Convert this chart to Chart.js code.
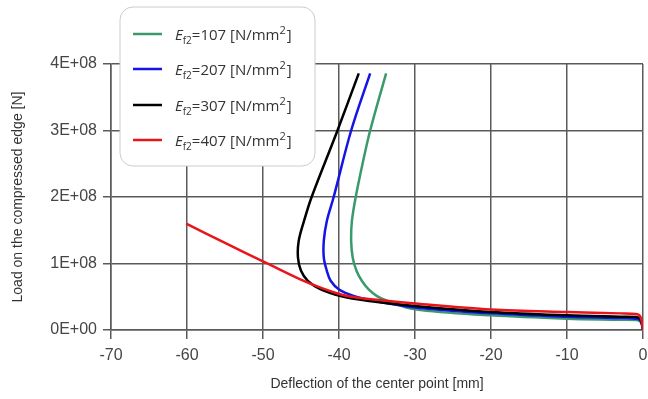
<!DOCTYPE html>
<html>
<head>
<meta charset="utf-8">
<script src="https://cdn.jsdelivr.net/npm/chart.js@4/dist/chart.umd.min.js"></script>
<style>
html,body{margin:0;padding:0;background:#fff;}
#wrap{width:648px;height:399px;position:relative;}
</style>
</head>
<body>
<div id="wrap"><canvas id="c" width="648" height="399"></canvas></div>
<script>
// Data: [deflection mm, load in units of 1E+08 N]
const seriesLabels = ['107', '207', '307', '407'];
const green107 = [[0,0],[-0.15,0.08],[-0.4,0.13],[-0.9,0.15],[-3,0.155],[-10,0.17],[-20,0.22],[-30,0.31],[-33.7,0.44],[-35.0,0.51],[-36.1,0.61],[-37.0,0.74],[-37.7,0.89],[-38.2,1.09],[-38.4,1.34],[-38.3,1.64],[-37.8,2.0],[-36.9,2.5],[-35.9,3.0],[-33.8,3.86]];
const blue207 = [[0,0],[-0.15,0.09],[-0.4,0.15],[-0.9,0.17],[-3,0.18],[-10,0.20],[-20,0.25],[-30,0.34],[-35.5,0.44],[-38.0,0.51],[-40.0,0.61],[-41.1,0.74],[-41.6,0.89],[-42.0,1.09],[-42.0,1.34],[-41.6,1.64],[-40.7,2.0],[-38.4,3.0],[-35.9,3.86]];
const black307 = [[0,0],[-0.15,0.10],[-0.4,0.17],[-0.9,0.195],[-3,0.20],[-10,0.22],[-20,0.27],[-30,0.36],[-36.3,0.44],[-39.8,0.51],[-42.4,0.61],[-44.1,0.74],[-45.0,0.89],[-45.4,1.09],[-45.3,1.34],[-44.6,1.64],[-43.6,2.0],[-40.2,3.0],[-37.4,3.86]];
const red407 = [[0,0],[-0.15,0.12],[-0.4,0.21],[-0.9,0.24],[-3,0.25],[-10,0.27],[-20,0.31],[-30,0.40],[-35.0,0.455],[-38.9,0.51],[-42.5,0.64],[-45.1,0.76],[-49.8,1.02],[-55,1.31],[-60.1,1.6]];
const xTicks = [-70,-60,-50,-40,-30,-20,-10,0];
const yTicks = [0,1e8,2e8,3e8,4e8];
const colors = ['#3a9a6c','#1414e6','#000000','#e8161c'];
const UNIT = 1e8;

const toPts = a => a.map(p => ({x:p[0], y:p[1]*UNIT}));
const dataSets = [green107, blue207, black307, red407];
const orders = [3,2,1,0];

const legendPlugin = {
  id:'customLegend',
  afterDraw(chart){
    const ctx = chart.ctx;
    ctx.save();
    const x0=120, y0=7, w=195, h=159, r=13;
    ctx.beginPath();
    ctx.moveTo(x0+r,y0);
    ctx.arcTo(x0+w,y0,x0+w,y0+h,r);
    ctx.arcTo(x0+w,y0+h,x0,y0+h,r);
    ctx.arcTo(x0,y0+h,x0,y0,r);
    ctx.arcTo(x0,y0,x0+w,y0,r);
    ctx.closePath();
    ctx.fillStyle='#ffffff';
    ctx.fill();
    ctx.strokeStyle='#cccccc';
    ctx.lineWidth=1;
    ctx.stroke();
    const rows=[34,69,105,140];
    seriesLabels.forEach((lab,i)=>{
      const y=rows[i];
      ctx.strokeStyle=colors[i];
      ctx.lineWidth=2.5;
      ctx.beginPath();ctx.moveTo(133,y);ctx.lineTo(162,y);ctx.stroke();
      ctx.fillStyle='#333333';
      ctx.textBaseline='alphabetic';
      let x=175; const base=y+6;
      ctx.font='italic 15px "Open Sans"';
      ctx.fillText('E',x,base); x+=ctx.measureText('E').width;
      ctx.font='10px "Open Sans"';
      ctx.fillText('f2',x,base+4); x+=ctx.measureText('f2').width;
      ctx.font='15px "Open Sans"';
      const t='='+lab+' [N/mm';
      ctx.fillText(t,x,base); x+=ctx.measureText(t).width;
      ctx.font='11px "Open Sans"';
      ctx.fillText('2',x,base-6); x+=ctx.measureText('2').width;
      ctx.font='15px "Open Sans"';
      ctx.fillText(']',x+1,base);
    });
    ctx.restore();
  }
};

new Chart(document.getElementById('c'), {
  type:'line',
  data:{
    datasets: dataSets.map((d,i)=>({
      label:'Ef2='+seriesLabels[i]+' [N/mm2]',
      data: toPts(d),
      borderColor: colors[i],
      backgroundColor: colors[i],
      borderWidth: 2.5,
      pointRadius: 0,
      tension: 0.35,
      fill: false,
      order: orders[i]
    }))
  },
  plugins:[legendPlugin],
  options:{
    responsive:false,
    animation:false,
    layout:{padding:{top:64,right:5,left:0,bottom:0}},
    plugins:{legend:{display:false},tooltip:{enabled:false}},
    scales:{
      x:{
        type:'linear', min:-70, max:0,
        afterFit(s){ s.height = 69; s.paddingLeft = 0; s.paddingRight = 0; },
        afterBuildTicks(s){ s.ticks = xTicks.map(v=>({value:v})); },
        grid:{color:'#5a5a5a', lineWidth:1.5, tickLength:9, drawTicks:true},
        border:{color:'#5a5a5a', width:1.5},
        ticks:{color:'#454545', font:{family:'"Liberation Sans", Arial', size:16}, padding:7, maxRotation:0},
        title:{display:true, text:'Deflection of the center point [mm]', color:'#333333', font:{family:'"Liberation Sans", Arial', size:14}, padding:{top:0,bottom:6}}
      },
      y:{
        type:'linear', min:0, max:4e8,
        afterFit(s){ s.width = 111; s.paddingTop = 0; s.paddingBottom = 0; },
        afterBuildTicks(s){ s.ticks = yTicks.map(v=>({value:v})); },
        grid:{color:'#5a5a5a', lineWidth:1.5, tickLength:8},
        border:{color:'#5a5a5a', width:1.5},
        ticks:{color:'#454545', font:{family:'"Liberation Sans", Arial', size:16}, padding:6,
          callback:v=> v===0 ? '0E+00' : (v/1e8)+'E+08'},
        title:{display:true, text:'Load on the compressed edge [N]', color:'#333333', font:{family:'"Liberation Sans", Arial', size:14}, padding:{top:10,bottom:0}}
      }
    }
  }
});
</script>
</body>
</html>
